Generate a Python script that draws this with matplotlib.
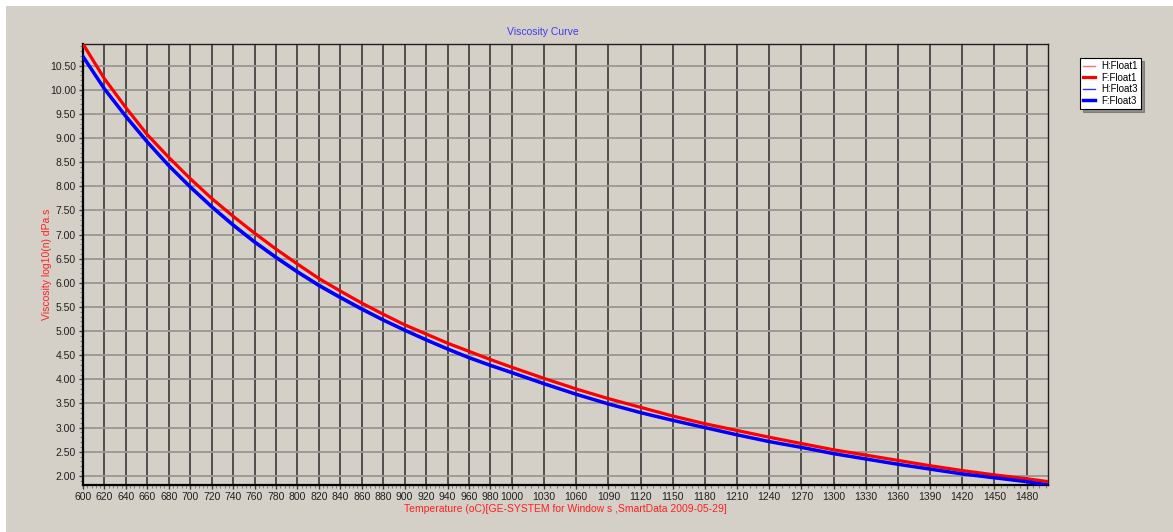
import matplotlib
matplotlib.use("Agg")
import matplotlib.pyplot as plt
from matplotlib.patches import Rectangle
from matplotlib.ticker import FixedLocator, FormatStrFormatter, MultipleLocator

plt.rcParams['font.family'] = ['Liberation Sans', 'DejaVu Sans']

# ---- data ----
temps = [600, 620, 640, 660, 680, 700, 720, 740, 760, 780, 800, 820, 840, 860,
         880, 900, 920, 940, 960, 980, 1000, 1030, 1060, 1090, 1120, 1150, 1180,
         1210, 1240, 1270, 1300, 1330, 1360, 1390, 1420, 1450, 1480, 1500]

f_float1 = [10.95, 10.23, 9.63, 9.07, 8.60, 8.16, 7.75, 7.38, 7.03, 6.70, 6.39,
            6.09, 5.83, 5.58, 5.35, 5.13, 4.94, 4.75, 4.58, 4.41, 4.25, 4.02,
            3.80, 3.60, 3.42, 3.24, 3.08, 2.94, 2.80, 2.67, 2.54, 2.43, 2.32,
            2.21, 2.11, 2.02, 1.94, 1.88]
h_float1 = [10.94, 10.22, 9.62, 9.06, 8.59, 8.15, 7.74, 7.37, 7.02, 6.69, 6.38,
            6.08, 5.82, 5.57, 5.34, 5.12, 4.93, 4.74, 4.57, 4.40, 4.24, 4.01,
            3.79, 3.59, 3.41, 3.23, 3.07, 2.93, 2.79, 2.66, 2.53, 2.42, 2.31,
            2.20, 2.10, 2.01, 1.93, 1.87]
f_float3 = [10.69, 10.02, 9.45, 8.92, 8.43, 7.99, 7.58, 7.20, 6.85, 6.53, 6.23,
            5.95, 5.70, 5.46, 5.23, 5.02, 4.82, 4.63, 4.45, 4.29, 4.14, 3.91,
            3.69, 3.49, 3.31, 3.15, 3.00, 2.85, 2.71, 2.59, 2.46, 2.35, 2.24,
            2.14, 2.04, 1.96, 1.88, 1.81]
h_float3 = [10.67, 10.00, 9.42, 8.89, 8.41, 7.96, 7.55, 7.17, 6.82, 6.50, 6.20,
            5.92, 5.67, 5.43, 5.21, 5.00, 4.80, 4.61, 4.43, 4.27, 4.12, 3.89,
            3.68, 3.48, 3.30, 3.14, 2.99, 2.84, 2.70, 2.58, 2.45, 2.34, 2.23,
            2.13, 2.03, 1.95, 1.87, 1.80]

x_ticks = [600, 620, 640, 660, 680, 700, 720, 740, 760, 780, 800, 820, 840, 860,
           880, 900, 920, 940, 960, 980, 1000, 1030, 1060, 1090, 1120, 1150,
           1180, 1210, 1240, 1270, 1300, 1330, 1360, 1390, 1420, 1450, 1480]
y_ticks = [2.0, 2.5, 3.0, 3.5, 4.0, 4.5, 5.0, 5.5, 6.0, 6.5, 7.0, 7.5, 8.0,
           8.5, 9.0, 9.5, 10.0, 10.5]

BG = '#d4d0c8'
W, H = 1173, 532
fig = plt.figure(figsize=(W / 100, H / 100), dpi=100)
fig.patch.set_facecolor('white')
fig.patches.append(Rectangle((6 / W, 0), 1 - 6 / W, 1 - 6 / H,
                             transform=fig.transFigure, facecolor=BG,
                             edgecolor='none', zorder=-10))

ax = fig.add_axes([83 / W, 1 - 485 / H, (1048 - 83) / W, (485 - 44) / H])
ax.set_facecolor(BG)

ax.plot(temps, h_float1, color='#ff7070', lw=1.0, zorder=3, label='H:Float1')
ax.plot(temps, f_float1, color='#ff0000', lw=2.3, zorder=4, label='F:Float1')
ax.plot(temps, h_float3, color='#3030ff', lw=1.0, zorder=3, label='H:Float3')
ax.plot(temps, f_float3, color='#0000ff', lw=2.5, zorder=4, label='F:Float3')

ax.set_xlim(600, 1500)
ax.set_ylim(1.81, 10.95)

ax.xaxis.set_major_locator(FixedLocator(x_ticks))
minors = [t for t in range(600, 1000, 4)] + [t for t in range(1000, 1500, 6)]
ax.xaxis.set_minor_locator(FixedLocator(minors))
ax.set_xticklabels([str(t) for t in x_ticks])
ax.yaxis.set_major_locator(FixedLocator(y_ticks))
ax.yaxis.set_minor_locator(MultipleLocator(0.1))
ax.yaxis.set_major_formatter(FormatStrFormatter('%.2f'))

ax.grid(True, axis='x', which='major', color='#444444', lw=1.3, zorder=1)
ax.grid(True, axis='y', which='major', color='#9c9a94', lw=1.4, zorder=1)
ax.set_axisbelow(True)

ax.tick_params(axis='both', which='major', labelsize=7.5, length=3,
               color='#404040', labelcolor='#202020', width=1, pad=2)
ax.tick_params(axis='both', which='minor', length=2, color='#808080', width=0.8)

for s in ['left', 'bottom']:
    ax.spines[s].set_linewidth(1.6)
    ax.spines[s].set_color('black')
for s in ['top', 'right']:
    ax.spines[s].set_linewidth(1.0)
    ax.spines[s].set_color('#202020')

fig.text(543 / W, 1 - 32 / H, 'Viscosity Curve', color='#3c3cf0',
         fontsize=7.5, ha='center', va='center')
fig.text(565 / W, 1 - 509 / H,
         'Temperature (oC)[GE-SYSTEM for Window s ,SmartData 2009-05-29]',
         color='#ff2020', fontsize=7.5, ha='center', va='center')
fig.text(47 / W, 1 - 264 / H, 'Viscosity log10(n) dPa.s', color='#ff2020',
         fontsize=7.5, ha='center', va='center', rotation=90)

leg = fig.legend(loc='upper left', bbox_to_anchor=(1080 / W, 1 - 58 / H),
                 fontsize=7, frameon=True, shadow=True, fancybox=False,
                 handlelength=1.2, handletextpad=0.6, borderpad=0.35,
                 labelspacing=0.15, borderaxespad=0)
leg.get_frame().set_edgecolor('black')
leg.get_frame().set_facecolor('white')
leg.get_frame().set_linewidth(0.8)

fig.savefig('out.png', dpi=100, facecolor=fig.get_facecolor())
